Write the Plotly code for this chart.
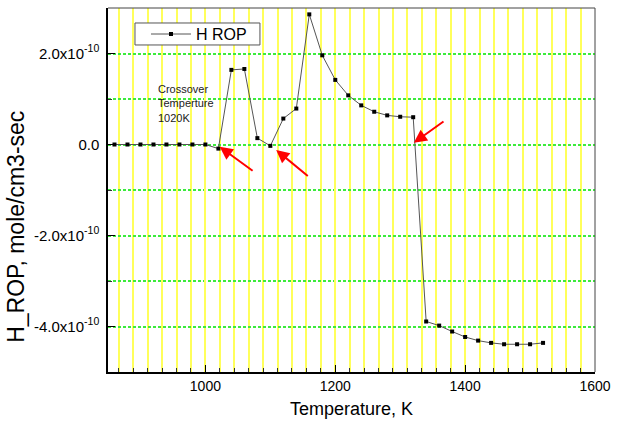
import plotly.graph_objects as go

# ---- data ----
temperature_K = [860, 880, 900, 920, 940, 960, 980, 1000, 1020, 1040,
                 1060, 1080, 1100, 1120, 1140, 1160, 1180, 1200, 1220, 1240,
                 1260, 1280, 1300, 1320, 1340, 1360, 1380, 1400, 1420, 1440,
                 1460, 1480, 1500, 1520]
h_rop = [0.0, 0.0, 0.0, 0.0, 0.0, 0.0, 0.0, 0.0, -0.09e-10, 1.64e-10,
         1.66e-10, 0.14e-10, -0.03e-10, 0.57e-10, 0.79e-10, 2.86e-10, 1.96e-10, 1.42e-10, 1.08e-10, 0.86e-10,
         0.72e-10, 0.64e-10, 0.61e-10, 0.60e-10, -3.89e-10, -3.98e-10, -4.11e-10, -4.23e-10, -4.31e-10, -4.36e-10,
         -4.39e-10, -4.39e-10, -4.39e-10, -4.36e-10]
series_name = "H ROP"

x_range = [850, 1600]
x_tickvals = [1000, 1200, 1400, 1600]
y_range = [-5e-10, 3e-10]
y_tickvals = [-4e-10, -2e-10, 0, 2e-10]
y_ticktext = ["-4.0x10<sup>-10</sup>", "-2.0x10<sup>-10</sup>", "0.0", "2.0x10<sup>-10</sup>"]

x_title = "Temperature, K"
y_title = "H_ROP, mole/cm3-sec"
note_text = "Crossover<br>Temperture<br>1020K"
note_pos = (924, 0.90e-10)
# arrows: (tip_x, tip_y, tail_x, tail_y)
arrows = [
    (1022, -0.05e-10, 1075, -0.60e-10),
    (1109, -0.12e-10, 1160, -0.72e-10),
    (1321, 0.04e-10, 1369, 0.53e-10),
]

FONT = "Arial, Liberation Sans, sans-serif"
YELLOW = "rgb(255,255,90)"
GREEN = "rgb(60,235,60)"

fig = go.Figure()
fig.add_trace(go.Scatter(
    x=temperature_K, y=h_rop, name=series_name, mode="lines+markers",
    line=dict(color="#555555", width=1),
    marker=dict(symbol="square", size=4, color="black"),
))

annotations = [
    dict(
        x=note_pos[0], y=note_pos[1], xref="x", yref="y", text=note_text,
        showarrow=False, xanchor="left", yanchor="middle", align="left",
        font=dict(family=FONT, size=11, color="#222222"),
    ),
    # y axis title (placed like the reference, below the plot centre)
    dict(
        x=-0.188, y=0.40, xref="paper", yref="paper", text=y_title,
        showarrow=False, textangle=-90, xanchor="center", yanchor="middle",
        font=dict(family=FONT, size=23, color="black"),
    ),
]
for tx, ty, ax, ay in arrows:
    annotations.append(dict(
        x=tx, y=ty, ax=ax, ay=ay, xref="x", yref="y", axref="x", ayref="y",
        text="", showarrow=True, arrowhead=2, arrowsize=1.3, arrowwidth=2,
        arrowcolor="red",
    ))

fig.update_layout(
    width=621, height=425,
    margin=dict(l=108, r=26, t=8, b=53, autoexpand=False),
    paper_bgcolor="white", plot_bgcolor="white",
    font=dict(family=FONT, size=14, color="black"),
    showlegend=True,
    legend=dict(
        x=0.078, y=0.975, xanchor="left", yanchor="top",
        bgcolor="rgba(0,0,0,0)", borderwidth=0,
        font=dict(family=FONT, size=16, color="black"),
        itemwidth=40, tracegroupgap=0,
    ),
    annotations=annotations,
    shapes=[
        dict(type="line", xref="paper", yref="paper", x0=0, x1=1, y0=1, y1=1,
             line=dict(color="#444444", width=1)),
        dict(type="line", xref="paper", yref="paper", x0=1, x1=1, y0=0, y1=1,
             line=dict(color="#444444", width=1)),
        # legend frame
        dict(type="rect", xref="paper", yref="paper", x0=0.0554, x1=0.312,
             y0=0.8984, y1=0.9588, layer="above", fillcolor="white",
             line=dict(color="#555555", width=1)),
    ],
)

fig.update_xaxes(
    range=x_range, tickmode="array", tickvals=x_tickvals,
    ticks="inside", ticklen=7, tickcolor="black", tickwidth=1,
    showline=True, linecolor="black", linewidth=1.5, mirror=False,
    showgrid=True, gridcolor=YELLOW, gridwidth=1.5,
    zeroline=False, automargin=False,
    tickfont=dict(family=FONT, size=14, color="black"),
    title=dict(text=x_title, font=dict(family=FONT, size=18, color="black"), standoff=10),
    minor=dict(tick0=1000, dtick=200 / 9, ticks="inside", ticklen=4, tickcolor="#333333",
               showgrid=True, gridcolor=YELLOW, gridwidth=1.5),
)
fig.update_yaxes(
    range=y_range, tickmode="array", tickvals=y_tickvals, ticktext=y_ticktext,
    ticks="inside", ticklen=7, tickcolor="black", tickwidth=1,
    showline=True, linecolor="black", linewidth=1.5, mirror=False,
    showgrid=True, gridcolor=GREEN, gridwidth=1.5, griddash="3px,2px",
    zeroline=False, automargin=False, ticklabelstandoff=4,
    tickfont=dict(family=FONT, size=15, color="black"),
    minor=dict(tick0=0, dtick=1e-10, ticks="inside", ticklen=4, tickcolor="#333333",
               showgrid=True, gridcolor=GREEN, gridwidth=1.5, griddash="3px,2px"),
)

fig.write_html("out.html", config={"displayModeBar": False},
               post_script="document.body.style.margin='0';")
